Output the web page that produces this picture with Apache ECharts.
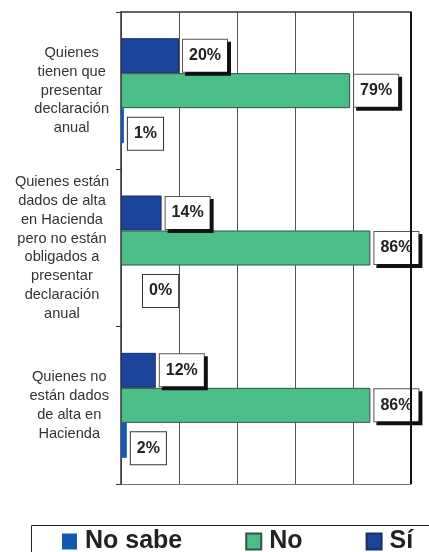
<!DOCTYPE html>
<html>
<head>
<meta charset="utf-8">
<script src="https://cdn.jsdelivr.net/npm/echarts@6/dist/echarts.min.js"></script>
<style>
  html, body { margin: 0; padding: 0; background: #fff; }
  #chart { width: 429px; height: 552px; }
</style>
</head>
<body>
<div id="chart"></div>
<script>
// categories listed bottom to top (value axis on x, category axis on y)
const categories = [
  'Quienes no\nestán dados\nde alta en\nHacienda',
  'Quienes están\ndados de alta\nen Hacienda\npero no están\nobligados a\npresentar\ndeclaración\nanual',
  'Quienes\ntienen que\npresentar\ndeclaración\nanual'
]
const noSabe = [2, 0, 1]
const no = [86, 86, 79]
const si = [12, 14, 20]
const seriesNames = ['No sabe', 'No', 'Sí']

const FONT = 'Liberation Sans, Arial, sans-serif'

const boxLabel = (extra) => Object.assign({
  show: true,
  position: 'right',
  distance: 4,
  formatter: '{c}%',
  fontFamily: FONT,
  fontSize: 16,
  fontWeight: 'bold',
  color: '#222',
  backgroundColor: '#fff',
  borderColor: '#555',
  borderWidth: 1,
  padding: [8, 6, 8, 6],
  shadowColor: '#111',
  shadowBlur: 0,
  shadowOffsetX: 3,
  shadowOffsetY: 3
}, extra)

const chart = echarts.init(document.getElementById('chart'))
chart.setOption({
  animation: false,
  backgroundColor: '#fff',
  grid: { left: 121, right: 18, top: 12, bottom: 68 },
  xAxis: [
    {
      type: 'value',
      min: 0,
      max: 100,
      interval: 20,
      axisLabel: { show: false },
      axisTick: { show: false },
      axisLine: { show: true, lineStyle: { color: '#777', width: 1 } },
      splitLine: { show: true, lineStyle: { color: '#555', width: 1 } }
    },
    {
      // top frame line
      type: 'value',
      position: 'top',
      min: 0,
      max: 100,
      interval: 20,
      axisLabel: { show: false },
      axisTick: { show: false },
      axisLine: { show: true, lineStyle: { color: '#333', width: 1.5 } },
      splitLine: { show: false }
    }
  ],
  yAxis: {
    type: 'category',
    data: categories,
    axisLine: { show: true, lineStyle: { color: '#333', width: 1.5 } },
    axisTick: { show: true, length: 5, lineStyle: { color: '#333' } },
    axisLabel: {
      align: 'right',
      margin: 12,
      formatter: v => v.split('\n').map(l => '{c|' + l + '}').join('\n'),
      rich: {
        c: { align: 'center', fontFamily: FONT, fontSize: 14.6, lineHeight: 18.8, color: '#333' }
      }
    }
  },
  legend: {
    data: seriesNames,
    left: 62,
    top: 529,
    padding: 0,
    icon: 'rect',
    itemWidth: 15,
    itemHeight: 16,
    itemGap: 63,
    textStyle: { fontFamily: FONT, fontSize: 25, fontWeight: 'bold', color: '#222', padding: [0, 0, 0, 3] }
  },
  graphic: [{
    type: 'rect',
    left: 29,
    top: 523,
    shape: { width: 430, height: 40 },
    style: { fill: 'none', stroke: '#222', lineWidth: 1 }
  }],
  // in a horizontal bar chart the first series sits at the top of each band
  series: [
    {
      name: 'Sí',
      type: 'bar',
      barWidth: 35,
      barGap: '0%',
      data: si,
      itemStyle: { color: '#1d449b', borderColor: '#1a2f66', borderWidth: 1 },
      label: boxLabel({})
    },
    {
      name: 'No',
      type: 'bar',
      barWidth: 35,
      barGap: '0%',
      data: no,
      itemStyle: { color: '#4bbd86', borderColor: '#3a4f45', borderWidth: 1 },
      label: boxLabel({}),
      markLine: {
        silent: true,
        symbol: 'none',
        label: { show: false },
        lineStyle: { color: '#111', width: 2, type: 'solid' },
        data: [{ xAxis: 100 }]
      }
    },
    {
      name: 'No sabe',
      type: 'bar',
      barWidth: 35,
      barGap: '0%',
      data: noSabe.map(v => v === 0 ? { value: v, label: { distance: 22 } } : v),
      itemStyle: { color: '#1459b0' },
      label: boxLabel({ offset: [0, 8], shadowOffsetX: 0, shadowOffsetY: 0, shadowColor: 'transparent', borderColor: '#333' })
    }
  ]
})
</script>
</body>
</html>
